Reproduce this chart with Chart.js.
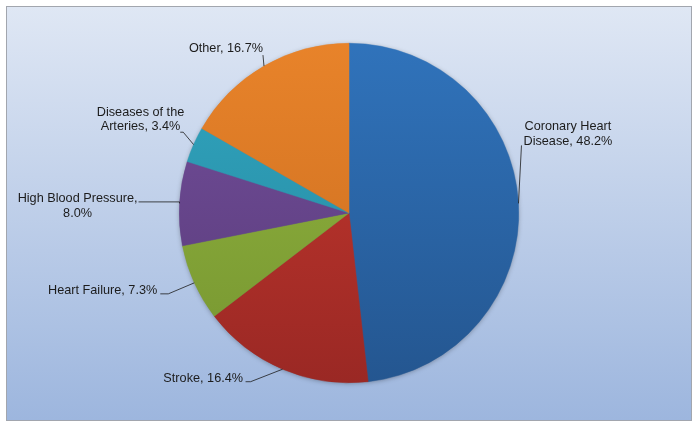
<!DOCTYPE html>
<html>
<head>
<meta charset="utf-8">
<script src="https://cdn.jsdelivr.net/npm/chart.js@4.4.1/dist/chart.umd.min.js"></script>
<style>
  html, body { margin: 0; padding: 0; background: #fff; }
  #wrap { width: 698px; height: 427px; }
</style>
</head>
<body>
<div id="wrap"><canvas id="myChart" width="698" height="427"></canvas></div>
<script>
// data
var categories = ['Coronary Heart Disease', 'Stroke', 'Heart Failure', 'High Blood Pressure', 'Diseases of the Arteries', 'Other'];
var shares = [48.2, 16.4, 7.3, 8.0, 3.4, 16.7];

// slice colours, light (top of pie) -> dark (bottom of pie)
var lightColors = ['#3073bb', '#c8392f', '#93b640', '#744f9c', '#31a6c0', '#e8832a'];
var darkColors = ['#245690', '#9a2824', '#769530', '#573a78', '#25859c', '#c86c1f'];

// where each label sits, relative to the rim point at the middle of its slice
var labelLayout = [
  { knee: [3, -58], stub: 0, edge: 'left', bx: 5, by: -76.5 },
  { knee: [-32, 12.5], stub: -5, edge: 'right', bx: -39.5, by: 9.5 },
  { knee: [-26, 11], stub: -8, edge: 'right', bx: -37, by: 8 },
  { knee: [0, -1.5], stub: -41, edge: 'right', bx: -42, by: -4.5 },
  { knee: [-10.4, -12.4], stub: -3, edge: 'right', bx: -9.4, by: -32.4 },
  { knee: [-1, -11], stub: 0, edge: 'right', bx: -1, by: -18 }
];

var FONT = '12.7px "Liberation Sans", Arial, sans-serif';
var LINE_H = 14.5;
var WRAP_W = 132;

function wrapText(ctx, text, maxW) {
  var words = text.split(' ');
  var lines = [];
  var cur = '';
  words.forEach(function (w) {
    var test = cur ? cur + ' ' + w : w;
    if (cur && ctx.measureText(test).width > maxW) {
      lines.push(cur);
      cur = w;
    } else {
      cur = test;
    }
  });
  if (cur) lines.push(cur);
  return lines;
}

var backgroundPlugin = {
  id: 'panel',
  beforeDraw: function (chart) {
    var ctx = chart.ctx;
    ctx.save();
    ctx.fillStyle = '#ffffff';
    ctx.fillRect(0, 0, chart.width, chart.height);
    var g = ctx.createLinearGradient(0, 7, 0, 420);
    g.addColorStop(0, '#dfe7f4');
    g.addColorStop(1, '#9db6de');
    ctx.fillStyle = g;
    ctx.fillRect(7, 7, 684, 413);
    ctx.strokeStyle = '#a2a6ae';
    ctx.lineWidth = 1;
    ctx.strokeRect(6.5, 6.5, 685, 414);
    ctx.restore();
  },
  beforeDatasetsDraw: function (chart) {
    // soft shadow under the whole pie
    var arc = chart.getDatasetMeta(0).data[0];
    if (!arc) return;
    var ctx = chart.ctx;
    ctx.save();
    ctx.shadowColor = 'rgba(0,0,0,0.35)';
    ctx.shadowBlur = 5;
    ctx.shadowOffsetX = 0;
    ctx.shadowOffsetY = 1;
    ctx.fillStyle = '#3b5f8f';
    ctx.beginPath();
    ctx.arc(arc.x, arc.y, arc.outerRadius - 0.5, 0, Math.PI * 2);
    ctx.fill();
    ctx.restore();
  }
};

var labelPlugin = {
  id: 'sliceLabels',
  afterDatasetsDraw: function (chart) {
    var ctx = chart.ctx;
    var meta = chart.getDatasetMeta(0);
    ctx.save();
    ctx.font = FONT;
    ctx.textBaseline = 'middle';
    ctx.fillStyle = '#1c1c1c';
    ctx.strokeStyle = '#1c1c1c';
    ctx.lineWidth = 0.8;
    meta.data.forEach(function (arc, i) {
      var mid = (arc.startAngle + arc.endAngle) / 2;
      var rx = arc.x + Math.cos(mid) * arc.outerRadius;
      var ry = arc.y + Math.sin(mid) * arc.outerRadius;
      var lay = labelLayout[i];
      var kx = rx + lay.knee[0];
      var ky = ry + lay.knee[1];

      ctx.beginPath();
      ctx.moveTo(rx, ry);
      ctx.lineTo(kx, ky);
      if (lay.stub) ctx.lineTo(kx + lay.stub, ky);
      ctx.stroke();

      var text = categories[i] + ', ' + shares[i].toFixed(1) + '%';
      var lines = wrapText(ctx, text, WRAP_W);
      var blockW = Math.max.apply(null, lines.map(function (l) { return ctx.measureText(l).width; }));
      var edgeX = rx + lay.bx;
      var cx = lay.edge === 'left' ? edgeX + blockW / 2 : edgeX - blockW / 2;
      ctx.textAlign = 'center';
      lines.forEach(function (l, j) {
        ctx.fillText(l, cx, ry + lay.by + j * LINE_H);
      });
    });
    ctx.restore();
  }
};

function sliceFill(context) {
  var chart = context.chart;
  var i = context.dataIndex;
  var area = chart.chartArea;
  if (!area) return lightColors[i];
  var g = chart.ctx.createLinearGradient(0, area.top, 0, area.bottom);
  g.addColorStop(0, lightColors[i]);
  g.addColorStop(1, darkColors[i]);
  return g;
}

var ctx = document.getElementById('myChart').getContext('2d');
var myChart = new Chart(ctx, {
  type: 'pie',
  data: {
    labels: categories,
    datasets: [{
      data: shares,
      backgroundColor: sliceFill,
      borderColor: sliceFill,
      borderWidth: 0.5
    }]
  },
  options: {
    responsive: false,
    animation: false,
    devicePixelRatio: 1,
    layout: { padding: { top: 43, bottom: 44, left: 0, right: 0 } },
    plugins: {
      legend: { display: false },
      tooltip: { enabled: false }
    }
  },
  plugins: [backgroundPlugin, labelPlugin]
});
</script>
</body>
</html>
